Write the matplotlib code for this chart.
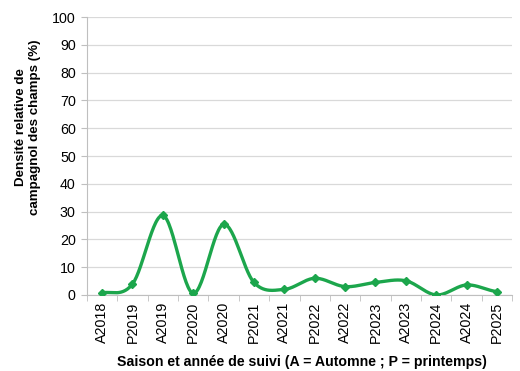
import numpy as np
import matplotlib
matplotlib.use("Agg")
import matplotlib.pyplot as plt

plt.rcParams['font.family'] = ['Liberation Sans', 'DejaVu Sans']

saisons = ['A2018', 'P2019', 'A2019', 'P2020', 'A2020', 'P2021', 'A2021',
           'P2022', 'A2022', 'P2023', 'A2023', 'P2024', 'A2024', 'P2025']
densite = [0.8, 3.9, 28.6, 0.6, 25.4, 4.5, 2.0, 6.0, 3.0, 4.5, 5.1, 0.0, 3.6, 1.2]

vert = '#1ca64c'
gris = '#bfbfbf'


def lissage(x, y, n=30):
    # courbe lissée type Catmull-Rom entre les points
    x = np.asarray(x, float)
    y = np.asarray(y, float)
    px = np.concatenate([[2 * x[0] - x[1]], x, [2 * x[-1] - x[-2]]])
    py = np.concatenate([[y[0]], y, [y[-1]]])
    xs, ys = [], []
    for i in range(1, len(px) - 2):
        t = np.linspace(0, 1, n, endpoint=False)
        for p, out in ((px, xs), (py, ys)):
            p0, p1, p2, p3 = p[i - 1], p[i], p[i + 1], p[i + 2]
            out.append(0.5 * (2 * p1 + (-p0 + p2) * t
                              + (2 * p0 - 5 * p1 + 4 * p2 - p3) * t ** 2
                              + (-p0 + 3 * p1 - 3 * p2 + p3) * t ** 3))
    xs.append([x[-1]])
    ys.append([y[-1]])
    return np.concatenate(xs), np.concatenate(ys)


fig = plt.figure(figsize=(5.2, 3.71), dpi=100)
ax = fig.add_axes([0.167, 0.205, 0.818, 0.749])

pos = np.arange(len(saisons))
cx, cy = lissage(pos, densite)
ax.plot(cx, cy, color=vert, lw=2.4, solid_capstyle='round', zorder=3)
ax.plot(pos, densite, linestyle='none', marker='D', ms=4.5, color=vert, zorder=4)

ax.set_xlim(-0.5, len(saisons) - 0.5)
ax.set_ylim(0, 100)
ax.set_yticks(range(0, 101, 10))
ax.yaxis.grid(True, color='#d9d9d9', lw=0.9)
ax.set_axisbelow(True)

ax.set_xticks(pos)
ax.set_xticklabels(saisons, rotation=90, fontsize=10.3)
ax.set_xticks(np.arange(-0.5, len(saisons), 1), minor=True)
ax.tick_params(axis='x', which='major', length=0, pad=5)
ax.tick_params(axis='x', which='minor', length=4, color=gris, direction='out')
ax.tick_params(axis='y', length=4, color=gris, labelsize=10.3, pad=4)

for s in ['top', 'right']:
    ax.spines[s].set_visible(False)
ax.spines['left'].set_color(gris)
ax.spines['bottom'].set_color(gris)

fig.text(0.054, 0.658, 'Densité relative de\ncampagnol des champs (%)', rotation=90,
         ha='center', va='center', fontsize=9.6, fontweight='bold', linespacing=1.2)
fig.text(0.581, 0.024, 'Saison et année de suivi (A = Automne ; P = printemps)',
         ha='center', va='center', fontsize=10.2, fontweight='bold')

fig.savefig('out.png', dpi=100)
